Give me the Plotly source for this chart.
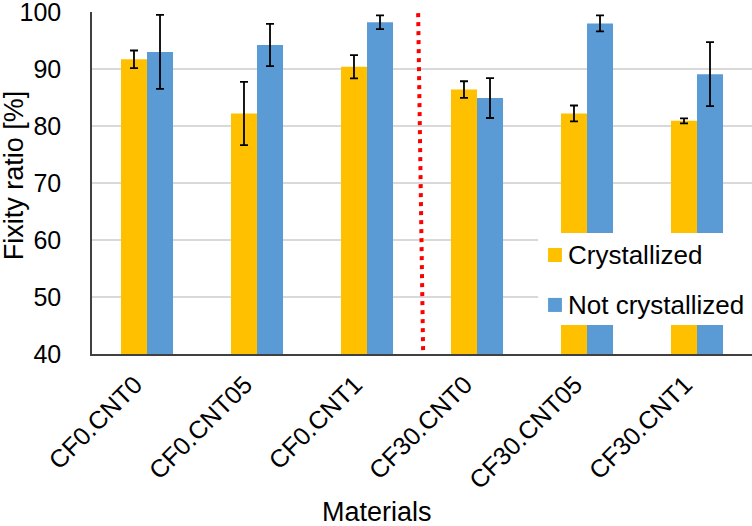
import plotly.graph_objects as go

# Fixity ratio per material, crystallized vs not crystallized
materials = ["CF0.CNT0", "CF0.CNT05", "CF0.CNT1", "CF30.CNT0", "CF30.CNT05", "CF30.CNT1"]
crystallized = [91.7, 82.2, 90.4, 86.4, 82.2, 80.9]
crystallized_err = [1.55, 5.55, 2.05, 1.45, 1.4, 0.45]
not_crystallized = [93.0, 94.2, 98.2, 84.9, 98.0, 89.1]
not_crystallized_err = [6.5, 3.7, 1.2, 3.5, 1.4, 5.6]
y_ticks = [40, 50, 60, 70, 80, 90, 100]

FONT = "Liberation Sans, Arial, sans-serif"
YELLOW = "#FFC000"
BLUE = "#5B9BD5"

fig = go.Figure()

fig.add_trace(go.Bar(
    x=materials,
    y=crystallized,
    name="Crystallized",
    showlegend=False,
    marker=dict(color=YELLOW, line=dict(width=0)),
    error_y=dict(type="data", array=crystallized_err, color="black", thickness=1.8, width=4)
))

fig.add_trace(go.Bar(
    x=materials,
    y=not_crystallized,
    name="Not crystallized",
    showlegend=False,
    marker=dict(color=BLUE, line=dict(width=0)),
    error_y=dict(type="data", array=not_crystallized_err, color="black", thickness=1.8, width=4)
))

# dotted separator between the CF0 and CF30 groups
fig.add_shape(
    type="line", xref="x", yref="y",
    x0=2.465, x1=2.51, y0=99.8, y1=40.6,
    line=dict(color="#FF0000", width=4, dash="4px,5px")
)

# legend drawn by hand: the built-in one would push the right margin
fig.add_shape(type="rect", xref="paper", yref="paper", layer="above",
              x0=0.676, x1=1.0, y0=0.085, y1=0.354,
              fillcolor="white", line=dict(width=0))
fig.add_shape(type="rect", xref="paper", yref="paper", layer="above",
              x0=0.691, x1=0.712, y0=0.269, y1=0.310,
              fillcolor=YELLOW, line=dict(width=0))
fig.add_shape(type="rect", xref="paper", yref="paper", layer="above",
              x0=0.691, x1=0.712, y0=0.123, y1=0.164,
              fillcolor=BLUE, line=dict(width=0))

fig.update_layout(
    width=752,
    height=526,
    margin=dict(l=92, r=0, t=12, b=172),
    plot_bgcolor="white",
    paper_bgcolor="white",
    font=dict(family=FONT, color="black", size=25),
    barmode="group",
    bargap=0.527,
    bargroupgap=0,
    showlegend=False,
    xaxis=dict(
        automargin=False,
        tickangle=-45,
        ticklabelstandoff=4,
        ticklabelshift=-12,
        showline=True,
        linecolor="#404040",
        linewidth=2,
        showgrid=False,
        tickfont=dict(size=25),
    ),
    yaxis=dict(
        automargin=False,
        range=[40, 100],
        tickvals=y_ticks,
        ticklabeloverflow="allow",
        showgrid=True,
        gridcolor="#D9D9D9",
        gridwidth=1.5,
        showline=True,
        linecolor="#404040",
        linewidth=1.5,
        ticklabelstandoff=24,
        zeroline=False,
        tickfont=dict(size=25),
    ),
    annotations=[
        dict(text="Fixity ratio [%]", xref="paper", yref="paper",
             x=-0.118, y=0.523, xanchor="center", yanchor="middle",
             textangle=-90, showarrow=False, font=dict(size=27)),
        dict(text="Materials", xref="paper", yref="paper",
             x=0.432, y=-0.462, xanchor="center", yanchor="middle",
             showarrow=False, font=dict(size=27)),
        dict(text="Crystallized", xref="paper", yref="paper",
             x=0.718, y=0.2895, xanchor="left", yanchor="middle",
             showarrow=False, font=dict(size=26)),
        dict(text="Not crystallized", xref="paper", yref="paper",
             x=0.718, y=0.143, xanchor="left", yanchor="middle",
             showarrow=False, font=dict(size=26)),
    ],
)

# drop the browser's default 8px body margin so the figure sits at the page corner
fig.write_html(
    "out.html",
    config={"displayModeBar": False},
    post_script="document.body.style.margin = '0';",
)
